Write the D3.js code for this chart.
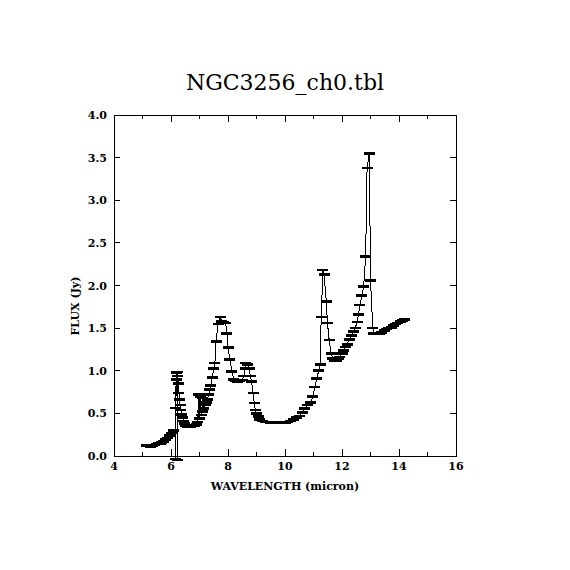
<!DOCTYPE html>
<html>
<head>
<meta charset="utf-8">
<script src="https://cdn.jsdelivr.net/npm/d3@7"></script>
<style>
  body { margin: 0; background: #fff; }
  text { font-family: 'DejaVu Serif', serif; fill: #000; }
</style>
</head>
<body>
<div id="chart"></div>
<script>
const chartTitle = 'NGC3256_ch0.tbl'
const xLabel = 'WAVELENGTH (micron)'
const yLabel = 'FLUX (Jy)'

const xTicks = [4, 6, 8, 10, 12, 14, 16]
const xMinorTicks = [5, 7, 9, 11, 13, 15]
const yTicks = [0, 0.5, 1, 1.5, 2, 2.5, 3, 3.5, 4]

// wavelength (micron) of each spectral point
const wavelength = [
  5.15, 5.22, 5.28, 5.35, 5.42, 5.48, 5.55, 5.62, 5.68, 5.75, 5.82, 5.88, 5.95, 6.02, 6.08,
  6.15, 6.18, 6.20, 6.22, 6.24, 6.26, 6.28, 6.30, 6.32, 6.35, 6.38, 6.41, 6.44, 6.48, 6.52,
  6.58, 6.64, 6.70, 6.76, 6.82, 6.88,
  6.94, 6.98, 7.00, 7.04, 7.06, 7.10, 7.12, 7.15, 7.20, 7.24, 7.28, 7.32, 7.36, 7.40, 7.45,
  7.50, 7.54, 7.58,
  7.65, 7.72, 7.78, 7.85, 7.92, 7.96, 8.00, 8.07, 8.14, 8.20, 8.28, 8.35, 8.42, 8.50, 8.56,
  8.60, 8.63, 8.68, 8.74, 8.78, 8.83, 8.88, 8.92, 8.96, 9.00,
  9.06, 9.12, 9.20, 9.30, 9.40, 9.50, 9.60, 9.70, 9.80, 9.90, 10.00, 10.10, 10.20, 10.30,
  10.40, 10.50, 10.60, 10.70, 10.80, 10.90,
  10.98, 11.05, 11.12, 11.18, 11.23, 11.27, 11.33, 11.37, 11.45, 11.49, 11.55, 11.62, 11.68,
  11.74, 11.80, 11.86, 11.92,
  12.00, 12.06, 12.12, 12.18, 12.25, 12.32, 12.39, 12.46, 12.53, 12.58, 12.63, 12.70, 12.76,
  12.83, 12.88, 12.96, 13.00, 13.08,
  13.12, 13.18, 13.25, 13.32, 13.40, 13.48, 13.56, 13.64, 13.72, 13.80, 13.88, 13.96, 14.04,
  14.12, 14.20,
]

// flux (Jy)
const flux = [
  0.12, 0.12, 0.11, 0.12, 0.13, 0.14, 0.15, 0.15, 0.16, 0.17, 0.19, 0.21, 0.24, 0.27, 0.30,
  0.26, 0.90, 0.98, 0.47, 0.94, 0.85, 0.74, 0.66, 0.60, 0.54, 0.49, 0.45, 0.41, 0.38, 0.36,
  0.35, 0.35, 0.35, 0.36, 0.36, 0.37,
  0.40, 0.72, 0.44, 0.70, 0.48, 0.52, 0.68, 0.56, 0.60, 0.63, 0.66, 0.72, 0.78, 0.83, 0.92,
  1.03, 1.09, 1.34,
  1.55, 1.63, 1.58, 1.57, 1.56, 1.44, 1.27, 1.13, 0.99, 0.90, 0.88, 0.87, 0.88, 0.89, 0.94,
  1.03, 1.09, 1.07, 1.03, 0.94, 0.87, 0.74, 0.62, 0.54, 0.50,
  0.46, 0.43, 0.41, 0.40, 0.40, 0.39, 0.39, 0.39, 0.39, 0.39, 0.39, 0.40, 0.41, 0.43,
  0.45, 0.47, 0.51, 0.56, 0.60, 0.63,
  0.70, 0.81, 0.91, 1.00, 1.07, 1.63, 2.18, 2.13, 1.81, 1.56, 1.36, 1.20, 1.14,
  1.12, 1.12, 1.14, 1.16,
  1.20, 1.24, 1.28, 1.31, 1.37, 1.41, 1.46, 1.50, 1.57, 1.66, 1.77, 1.88, 1.99,
  2.34, 3.38, 3.55, 2.06, 1.50,
  1.44, 1.43, 1.43, 1.44, 1.45, 1.47, 1.49, 1.50, 1.51, 1.53, 1.55, 1.56, 1.58,
  1.59, 1.60,
]

// 1-sigma flux uncertainty (Jy)
const fluxErr = [
  0.004, 0.004, 0.004, 0.004, 0.004, 0.004, 0.004, 0.004, 0.004, 0.004, 0.004, 0.004, 0.004, 0.004, 0.004,
  0.30, 0.004, 0.004, 0.52, 0.004, 0.004, 0.004, 0.004, 0.004, 0.004, 0.004, 0.004, 0.004, 0.004, 0.004,
  0.004, 0.004, 0.004, 0.004, 0.004, 0.004,
  0.004, 0.004, 0.004, 0.004, 0.004, 0.004, 0.004, 0.004, 0.004, 0.004, 0.004, 0.004, 0.004, 0.004, 0.004,
  0.004, 0.004, 0.004,
  0.004, 0.004, 0.004, 0.004, 0.004, 0.004, 0.004, 0.004, 0.004, 0.004, 0.004, 0.004, 0.004, 0.004, 0.004,
  0.004, 0.004, 0.004, 0.004, 0.004, 0.004, 0.004, 0.004, 0.004, 0.004,
  0.004, 0.004, 0.004, 0.004, 0.004, 0.004, 0.004, 0.004, 0.004, 0.004, 0.004, 0.004, 0.004, 0.004,
  0.004, 0.004, 0.004, 0.004, 0.004, 0.004,
  0.004, 0.004, 0.004, 0.004, 0.004, 0.004, 0.004, 0.004, 0.004, 0.004, 0.004, 0.004, 0.004,
  0.004, 0.004, 0.004, 0.004,
  0.004, 0.004, 0.004, 0.004, 0.004, 0.004, 0.004, 0.004, 0.004, 0.004, 0.004, 0.004, 0.004,
  0.004, 0.004, 0.004, 0.004, 0.004,
  0.004, 0.004, 0.004, 0.004, 0.004, 0.004, 0.004, 0.004, 0.004, 0.004, 0.004, 0.004, 0.004,
  0.004, 0.004,
]

const width = 570
const height = 570
const margin = { top: 115, right: 114, bottom: 114, left: 114 }
const innerW = width - margin.left - margin.right
const innerH = height - margin.top - margin.bottom
const capHalf = 5.5

const points = wavelength.map((w, i) => ({ w, f: flux[i], e: fluxErr[i] }))

const svg = d3
  .select('#chart')
  .append('svg')
  .attr('width', width)
  .attr('height', height)

const xScale = d3.scaleLinear().domain([4, 16]).range([0, innerW])
const yScale = d3.scaleLinear().domain([0, 4]).range([innerH, 0])

svg
  .append('text')
  .attr('x', width / 2)
  .attr('y', 90)
  .attr('text-anchor', 'middle')
  .attr('font-size', 22)
  .text(chartTitle)

const chartCore = svg
  .append('g')
  .attr('transform', `translate(${margin.left}, ${margin.top})`)

// frame
chartCore
  .append('rect')
  .attr('x', 0)
  .attr('y', 0)
  .attr('width', innerW)
  .attr('height', innerH)
  .attr('fill', 'none')
  .attr('stroke', '#000')
  .attr('stroke-width', 1)
  .attr('shape-rendering', 'crispEdges')

// inward ticks on all four sides
const ticks = chartCore
  .append('g')
  .attr('class', 'ticks')
  .attr('stroke', '#000')
  .attr('shape-rendering', 'crispEdges')

const xTickSet = [
  ...xTicks.map(v => ({ v, len: 7 })),
  ...xMinorTicks.map(v => ({ v, len: 4 })),
]
ticks
  .selectAll('line.xb')
  .data(xTickSet)
  .join('line')
  .attr('class', 'xb')
  .attr('x1', d => xScale(d.v))
  .attr('x2', d => xScale(d.v))
  .attr('y1', innerH)
  .attr('y2', d => innerH - d.len)
ticks
  .selectAll('line.xt')
  .data(xTickSet)
  .join('line')
  .attr('class', 'xt')
  .attr('x1', d => xScale(d.v))
  .attr('x2', d => xScale(d.v))
  .attr('y1', 0)
  .attr('y2', d => d.len)
ticks
  .selectAll('line.yl')
  .data(yTicks)
  .join('line')
  .attr('class', 'yl')
  .attr('x1', 0)
  .attr('x2', 6)
  .attr('y1', d => yScale(d))
  .attr('y2', d => yScale(d))
ticks
  .selectAll('line.yr')
  .data(yTicks)
  .join('line')
  .attr('class', 'yr')
  .attr('x1', innerW)
  .attr('x2', innerW - 6)
  .attr('y1', d => yScale(d))
  .attr('y2', d => yScale(d))

// tick labels
chartCore
  .append('g')
  .selectAll('text')
  .data(xTicks)
  .join('text')
  .attr('x', d => xScale(d))
  .attr('y', innerH + 14)
  .attr('text-anchor', 'middle')
  .attr('font-size', 11)
  .attr('font-weight', 'bold')
  .text(d => d)

chartCore
  .append('g')
  .selectAll('text')
  .data(yTicks)
  .join('text')
  .attr('x', -7)
  .attr('y', d => yScale(d) + 4)
  .attr('text-anchor', 'end')
  .attr('font-size', 11)
  .attr('font-weight', 'bold')
  .text(d => d3.format('.1f')(d))

svg
  .append('text')
  .attr('x', width / 2)
  .attr('y', 490)
  .attr('text-anchor', 'middle')
  .attr('font-size', 11)
  .attr('font-weight', 'bold')
  .text(xLabel)

svg
  .append('text')
  .attr('transform', `translate(79, 306) rotate(-90)`)
  .attr('text-anchor', 'middle')
  .attr('font-size', 11)
  .attr('font-weight', 'bold')
  .text(yLabel)

// spectrum: connecting line, error bars, caps
const spectrum = chartCore
  .append('g')
  .attr('class', 'spectrum')
  .attr('shape-rendering', 'crispEdges')

spectrum
  .append('path')
  .datum(points)
  .attr('fill', 'none')
  .attr('stroke', '#000')
  .attr('stroke-width', 1)
  .attr(
    'd',
    d3
      .line()
      .x(d => xScale(d.w))
      .y(d => yScale(d.f)),
  )

spectrum
  .selectAll('line.err')
  .data(points)
  .join('line')
  .attr('class', 'err')
  .attr('x1', d => xScale(d.w))
  .attr('x2', d => xScale(d.w))
  .attr('y1', d => yScale(d.f - d.e))
  .attr('y2', d => yScale(d.f + d.e))
  .attr('stroke', '#000')
  .attr('stroke-width', 1)

const caps = points.flatMap(d => [
  { w: d.w, f: d.f - d.e },
  { w: d.w, f: d.f + d.e },
])
spectrum
  .selectAll('line.cap')
  .data(caps)
  .join('line')
  .attr('class', 'cap')
  .attr('x1', d => xScale(d.w) - capHalf)
  .attr('x2', d => xScale(d.w) + capHalf)
  .attr('y1', d => yScale(d.f))
  .attr('y2', d => yScale(d.f))
  .attr('stroke', '#000')
  .attr('stroke-width', 2)
</script>
</body>
</html>
